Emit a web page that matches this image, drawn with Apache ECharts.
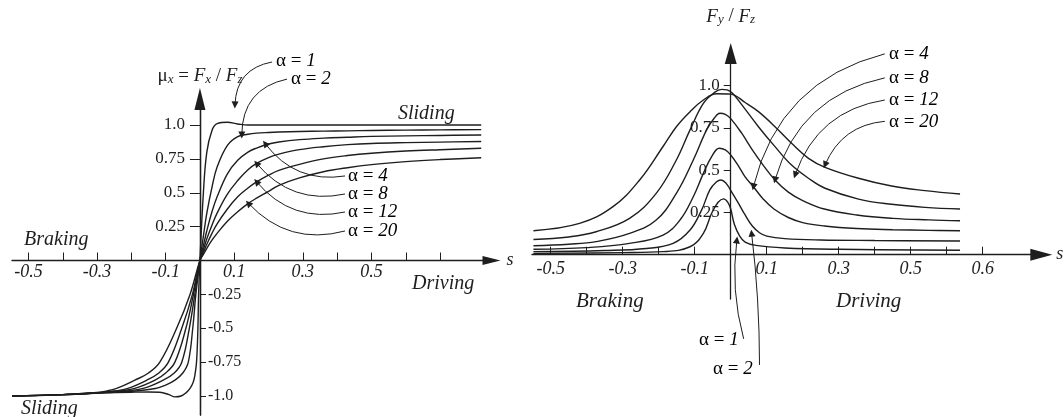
<!DOCTYPE html>
<html>
<head>
<meta charset="utf-8">
<script src="https://cdn.jsdelivr.net/npm/echarts@6/dist/echarts.min.js"></script>
<style>
html,body{margin:0;padding:0;background:#fff;}
#chart{width:1064px;height:417px;}
</style>
</head>
<body>
<div id="chart"></div>
<script>
// longitudinal force mu_x = Fx/Fz against slip s, one curve per alpha
var mux_a1 = [[-0.548,-1.0],[-0.45,-0.995],[-0.35,-0.985],[-0.29,-0.978],[-0.2,-0.972],[-0.15,-0.97],[-0.117,-0.972],[-0.09,-0.99],[-0.073,-1.006],[-0.055,-1.0],[-0.04,-0.975],[-0.029,-0.944],[-0.02,-0.9],[-0.015,-0.85],[-0.01,-0.75],[-0.006,-0.5],[-0.004,-0.25],[0,0],
  [0.01,0.5],[0.02,0.8],[0.035,0.96],[0.05,1.01],[0.08,1.02],[0.11,1.008],[0.14,1.0],[0.2,1.0],[0.3,1.0],[0.45,1.0],[0.6,1.0],[0.82,1.0]];
var mux_a2 = [[-0.548,-1.0],[-0.4,-0.99],[-0.28,-0.975],[-0.2,-0.965],[-0.13,-0.944],[-0.1,-0.92],[-0.073,-0.883],[-0.05,-0.83],[-0.034,-0.75],[-0.021,-0.5],[-0.012,-0.25],[0,0],
  [0.01,0.18],[0.02,0.35],[0.035,0.54],[0.05,0.69],[0.08,0.85],[0.11,0.915],[0.14,0.932],[0.165,0.94],[0.2,0.945],[0.23,0.948],[0.29,0.952],[0.36,0.955],[0.43,0.957],[0.5,0.96],[0.6,0.962],[0.7,0.964],[0.82,0.966]];
var mux_a4 = [[-0.548,-1.0],[-0.4,-0.99],[-0.29,-0.975],[-0.22,-0.963],[-0.165,-0.944],[-0.107,-0.883],[-0.075,-0.83],[-0.053,-0.75],[-0.031,-0.5],[-0.015,-0.25],[0,0],
  [0.01,0.11],[0.02,0.22],[0.035,0.36],[0.05,0.47],[0.08,0.64],[0.11,0.74],[0.14,0.8],[0.165,0.83],[0.2,0.86],[0.23,0.875],[0.29,0.892],[0.36,0.903],[0.43,0.91],[0.5,0.916],[0.6,0.92],[0.7,0.923],[0.82,0.926]];
var mux_a8 = [[-0.548,-1.0],[-0.4,-0.99],[-0.29,-0.975],[-0.24,-0.963],[-0.19,-0.944],[-0.131,-0.883],[-0.1,-0.83],[-0.073,-0.75],[-0.041,-0.5],[-0.019,-0.25],[0,0],
  [0.01,0.08],[0.02,0.16],[0.035,0.26],[0.05,0.35],[0.08,0.49],[0.11,0.59],[0.14,0.67],[0.165,0.717],[0.2,0.76],[0.23,0.785],[0.29,0.818],[0.36,0.84],[0.43,0.855],[0.5,0.864],[0.6,0.87],[0.7,0.874],[0.82,0.878]];
var mux_a12 = [[-0.548,-1.0],[-0.4,-0.99],[-0.3,-0.976],[-0.25,-0.963],[-0.21,-0.944],[-0.155,-0.883],[-0.12,-0.83],[-0.092,-0.75],[-0.053,-0.5],[-0.022,-0.25],[0,0],
  [0.01,0.06],[0.02,0.12],[0.035,0.2],[0.05,0.27],[0.08,0.38],[0.11,0.47],[0.14,0.535],[0.165,0.58],[0.2,0.63],[0.23,0.665],[0.29,0.71],[0.36,0.75],[0.43,0.775],[0.5,0.792],[0.6,0.808],[0.7,0.818],[0.82,0.828]];
var mux_a20 = [[-0.548,-1.0],[-0.4,-0.99],[-0.31,-0.976],[-0.27,-0.962],[-0.243,-0.944],[-0.19,-0.883],[-0.15,-0.83],[-0.117,-0.75],[-0.068,-0.5],[-0.029,-0.25],[0,0],
  [0.01,0.045],[0.02,0.09],[0.035,0.15],[0.05,0.2],[0.08,0.29],[0.11,0.36],[0.14,0.42],[0.165,0.46],[0.2,0.51],[0.23,0.555],[0.29,0.61],[0.36,0.655],[0.43,0.685],[0.5,0.708],[0.6,0.73],[0.7,0.745],[0.82,0.758]];

// lateral force Fy/Fz against slip s, one curve per alpha
var fy_a1 = [[-0.548,0.008],[-0.3,0.012],[-0.188,0.018],[-0.113,0.047],[-0.076,0.126],[-0.053,0.245],[-0.035,0.31],[-0.02,0.33],[-0.008,0.31],[0,0.27],[0.01,0.18],[0.025,0.11],[0.04,0.075],[0.07,0.055],[0.15,0.04],[0.3,0.032],[0.637,0.026]];
var fy_a2 = [[-0.548,0.018],[-0.35,0.025],[-0.234,0.037],[-0.16,0.067],[-0.113,0.146],[-0.081,0.264],[-0.058,0.383],[-0.04,0.43],[-0.027,0.442],[-0.012,0.42],[0,0.38],[0.02,0.31],[0.04,0.235],[0.06,0.17],[0.08,0.13],[0.1,0.11],[0.15,0.095],[0.25,0.087],[0.4,0.084],[0.637,0.081]];
var fy_a4 = [[-0.548,0.032],[-0.4,0.042],[-0.281,0.067],[-0.188,0.116],[-0.141,0.205],[-0.104,0.343],[-0.076,0.481],[-0.053,0.58],[-0.032,0.63],[-0.015,0.62],[0,0.59],[0.02,0.53],[0.04,0.46],[0.063,0.402],[0.09,0.33],[0.12,0.27],[0.16,0.22],[0.2,0.19],[0.26,0.17],[0.35,0.155],[0.45,0.148],[0.55,0.144],[0.637,0.142]];
var fy_a8 = [[-0.548,0.053],[-0.45,0.062],[-0.374,0.077],[-0.281,0.126],[-0.207,0.205],[-0.151,0.363],[-0.104,0.56],[-0.067,0.738],[-0.045,0.81],[-0.03,0.837],[-0.015,0.83],[0,0.805],[0.03,0.72],[0.06,0.62],[0.09,0.53],[0.123,0.442],[0.16,0.37],[0.2,0.32],[0.26,0.27],[0.35,0.235],[0.45,0.215],[0.55,0.206],[0.637,0.201]];
var fy_a12 = [[-0.548,0.09],[-0.45,0.105],[-0.374,0.136],[-0.281,0.215],[-0.207,0.363],[-0.151,0.56],[-0.113,0.738],[-0.076,0.895],[-0.045,0.96],[-0.025,0.978],[-0.01,0.975],[0.005,0.955],[0.031,0.886],[0.077,0.757],[0.123,0.639],[0.169,0.53],[0.216,0.452],[0.262,0.393],[0.355,0.329],[0.447,0.298],[0.54,0.28],[0.637,0.27]];
var fy_a20 = [[-0.548,0.142],[-0.42,0.185],[-0.327,0.284],[-0.253,0.442],[-0.188,0.64],[-0.151,0.757],[-0.113,0.846],[-0.076,0.915],[-0.039,0.952],[0,0.95],[0.04,0.9],[0.077,0.846],[0.123,0.757],[0.169,0.659],[0.216,0.57],[0.262,0.517],[0.355,0.452],[0.447,0.406],[0.54,0.379],[0.637,0.359]];

// axis ticks and labels
var xTicks = [-0.5,-0.4,-0.3,-0.2,-0.1,0.1,0.2,0.3,0.4,0.5,0.6,0.7];
var xLabelsLeft = [-0.5,-0.3,-0.1,0.1,0.3,0.5];
var xLabelsRight = [-0.5,-0.3,-0.1,0.1,0.3,0.5,0.7];
var xLabelTextRight = {'0.7':'0.6'};   // printed that way in the figure
var yPosTicks = [0.25,0.5,0.75,1.0];
var yNegTicks = [-0.25,-0.5,-0.75,-1.0];

// annotation arrows: [from, to, curveness] in data units
var muxArrows = [
  [[0.21,1.465],[0.102,1.148],-0.4],
  [[0.254,1.339],[0.122,0.926],-0.4],
  [[0.423,0.624],[0.19,0.863],0.3],
  [[0.423,0.491],[0.165,0.717],0.3],
  [[0.423,0.358],[0.165,0.581],0.3],
  [[0.423,0.218],[0.141,0.423],0.3]
];
var fyArrows = [
  [[0.428,1.188],[0.063,0.402],-0.3],
  [[0.428,1.046],[0.123,0.442],-0.3],
  [[0.428,0.915],[0.179,0.472],-0.3],
  [[0.428,0.789],[0.262,0.531],-0.3],
  [[0.036,-0.498],[0.017,0.087],0.1],
  [[0.08,-0.652],[0.058,0.127],-0.03]
];

var SERIF = '"Liberation Serif", "DejaVu Serif", serif';
var INK = '#1e1e1e';

// plot boxes and axis ranges
var boxL = {left: 12, top: 99, width: 479.5, height: 316};
var boxR = {left: 532, top: 53.5, width: 509.3, height: 245.5};
var rangeL = {x: [-0.548, 0.850], y: [-1.14, 1.192]};
var rangeR = {x: [-0.552, 0.8627], y: [-0.262, 1.19]};

// distance from a box edge to the zero line, so axes cross at the origin
function zeroFromLow(r, size) { return (0 - r[0]) / (r[1] - r[0]) * size; }
function zeroFromHigh(r, size) { return (r[1] - 0) / (r[1] - r[0]) * size; }

var chart = echarts.init(document.getElementById('chart'));

function fmtNum(v) {
  var t = String(v);
  if (t === '1') return '1.0';
  if (t === '-1') return '-1.0';
  return t;
}

function xAxisCfg(grid, range, box, labels, arrowSize, fmt, margin) {
  return {
    type: 'value', gridIndex: grid, min: range.x[0], max: range.x[1], position: 'bottom',
    offset: -zeroFromLow(range.y, box.height),
    axisLine: {onZero: false, symbol: ['none', 'triangle'], symbolSize: arrowSize,
      lineStyle: {color: INK, width: 1.3}},
    axisTick: {inside: true, length: 8, customValues: xTicks, lineStyle: {color: INK, width: 1}},
    axisLabel: {customValues: labels, formatter: fmt, margin: margin, color: INK,
      fontFamily: SERIF, fontStyle: 'italic', fontSize: 18},
    splitLine: {show: false},
    name: 's', nameLocation: 'end', nameGap: 15, nameMoveOverlap: false,
    nameTextStyle: {fontFamily: SERIF, fontStyle: 'italic', fontSize: 18, color: INK, padding: [0, 0, 5, 0]}
  };
}

function curve(xi, yi, data) {
  return {type: 'line', xAxisIndex: xi, yAxisIndex: yi, data: data, showSymbol: false, symbol: 'none',
    smooth: 0.4, silent: true, animation: false, z: 3,
    lineStyle: {color: INK, width: 1.4}};
}

function arrows(xi, yi, list) {
  return {type: 'lines', coordinateSystem: 'cartesian2d', xAxisIndex: xi, yAxisIndex: yi,
    clip: false, silent: true, animation: false, z: 4,
    symbol: ['none', 'triangle'], symbolSize: 7,
    lineStyle: {color: INK, width: 1, opacity: 1},
    data: list.map(function (a) { return {coords: [a[0], a[1]], lineStyle: {curveness: a[2]}}; })};
}

var alphaRich = {
  a: {fontFamily: SERIF, fontSize: 19, color: INK},
  n: {fontFamily: SERIF, fontSize: 19, fontStyle: 'italic', color: INK}
};
function alphaText(x, y, n) {
  return {type: 'text', x: x, y: y, silent: true,
    style: {text: '{a|α = }{n|' + n + '}', rich: alphaRich, align: 'left', verticalAlign: 'middle'}};
}
function wordText(x, y, w, size) {
  return {type: 'text', x: x, y: y, silent: true,
    style: {text: w, fontFamily: SERIF, fontStyle: 'italic', fontSize: size, fill: INK, align: 'left', verticalAlign: 'middle'}};
}

var nameRich = {
  m: {fontFamily: SERIF, fontSize: 19, color: INK, lineHeight: 20},
  f: {fontFamily: SERIF, fontSize: 19, fontStyle: 'italic', color: INK, lineHeight: 20},
  s: {fontFamily: SERIF, fontSize: 13, fontStyle: 'italic', color: INK, verticalAlign: 'bottom', lineHeight: 12}
};

var option = {
  backgroundColor: '#fff',
  animation: false,
  grid: [
    {left: boxL.left, top: boxL.top, width: boxL.width, height: boxL.height, containLabel: false, outerBoundsMode: 'none'},
    {left: boxR.left, top: boxR.top, width: boxR.width, height: boxR.height, containLabel: false, outerBoundsMode: 'none'}
  ],
  xAxis: [
    xAxisCfg(0, rangeL, boxL, xLabelsLeft, [9, 18], function (v) { return fmtNum(v); }, 3),
    xAxisCfg(1, rangeR, boxR, xLabelsRight, [12, 22], function (v) {
      var k = String(v); return xLabelTextRight[k] || fmtNum(v); }, 6)
  ],
  yAxis: [
    {type: 'value', gridIndex: 0, position: 'left', min: rangeL.y[0], max: rangeL.y[1],
      offset: -zeroFromLow(rangeL.x, boxL.width),
      axisLine: {onZero: false, symbol: ['none', 'triangle'], symbolSize: [11, 22],
        lineStyle: {color: INK, width: 1.3}},
      axisTick: {length: 10, customValues: yPosTicks, lineStyle: {color: INK}},
      axisLabel: {customValues: yPosTicks, formatter: fmtNum, margin: 15, color: INK, fontFamily: SERIF, fontSize: 17},
      splitLine: {show: false},
      name: '{m|μ}{s|x}{m| = }{f|F}{s|x}{m| / }{f|F}{s|z}', nameLocation: 'end', nameGap: 13, nameMoveOverlap: false,
      nameTextStyle: {rich: nameRich, align: 'center'}},
    {type: 'value', gridIndex: 0, position: 'right', min: rangeL.y[0], max: rangeL.y[1],
      offset: -zeroFromHigh(rangeL.x, boxL.width),
      axisLine: {onZero: false, lineStyle: {color: INK, width: 1.3}},
      axisTick: {length: 6, customValues: yNegTicks, lineStyle: {color: INK}},
      axisLabel: {customValues: yNegTicks, formatter: fmtNum, margin: 8, color: INK, fontFamily: SERIF, fontSize: 16},
      splitLine: {show: false}},
    {type: 'value', gridIndex: 1, position: 'left', min: rangeR.y[0], max: rangeR.y[1],
      offset: -zeroFromLow(rangeR.x, boxR.width),
      axisLine: {onZero: false, symbol: ['none', 'triangle'], symbolSize: [12, 21],
        lineStyle: {color: INK, width: 1.3}},
      axisTick: {length: 7, customValues: yPosTicks, lineStyle: {color: INK}},
      axisLabel: {customValues: yPosTicks, formatter: fmtNum, margin: 11, color: INK, fontFamily: SERIF, fontSize: 17},
      splitLine: {show: false},
      name: '{f|F}{s|y}{m| / }{f|F}{s|z}', nameLocation: 'end', nameGap: 27, nameMoveOverlap: false,
      nameTextStyle: {rich: nameRich, align: 'center'}}
  ],
  series: [
    curve(0, 0, mux_a1), curve(0, 0, mux_a2), curve(0, 0, mux_a4),
    curve(0, 0, mux_a8), curve(0, 0, mux_a12), curve(0, 0, mux_a20),
    curve(1, 2, fy_a1), curve(1, 2, fy_a2), curve(1, 2, fy_a4),
    curve(1, 2, fy_a8), curve(1, 2, fy_a12), curve(1, 2, fy_a20),
    arrows(0, 0, muxArrows),
    arrows(1, 2, fyArrows)
  ],
  graphic: {elements: [
    wordText(398, 114, 'Sliding', 20),
    wordText(24, 240, 'Braking', 20),
    wordText(412, 284, 'Driving', 20),
    wordText(21, 409, 'Sliding', 20),
    alphaText(276, 61, '1'),
    alphaText(291, 79, '2'),
    alphaText(348, 176, '4'),
    alphaText(348, 194, '8'),
    alphaText(348, 212, '12'),
    alphaText(348, 231, '20'),
    alphaText(889, 54, '4'),
    alphaText(889, 78, '8'),
    alphaText(889, 100, '12'),
    alphaText(889, 122, '20'),
    wordText(576, 301, 'Braking', 21),
    wordText(836, 301, 'Driving', 21),
    alphaText(699, 340, '1'),
    alphaText(713, 369, '2')
  ]}
};

chart.setOption(option);
</script>
</body>
</html>
